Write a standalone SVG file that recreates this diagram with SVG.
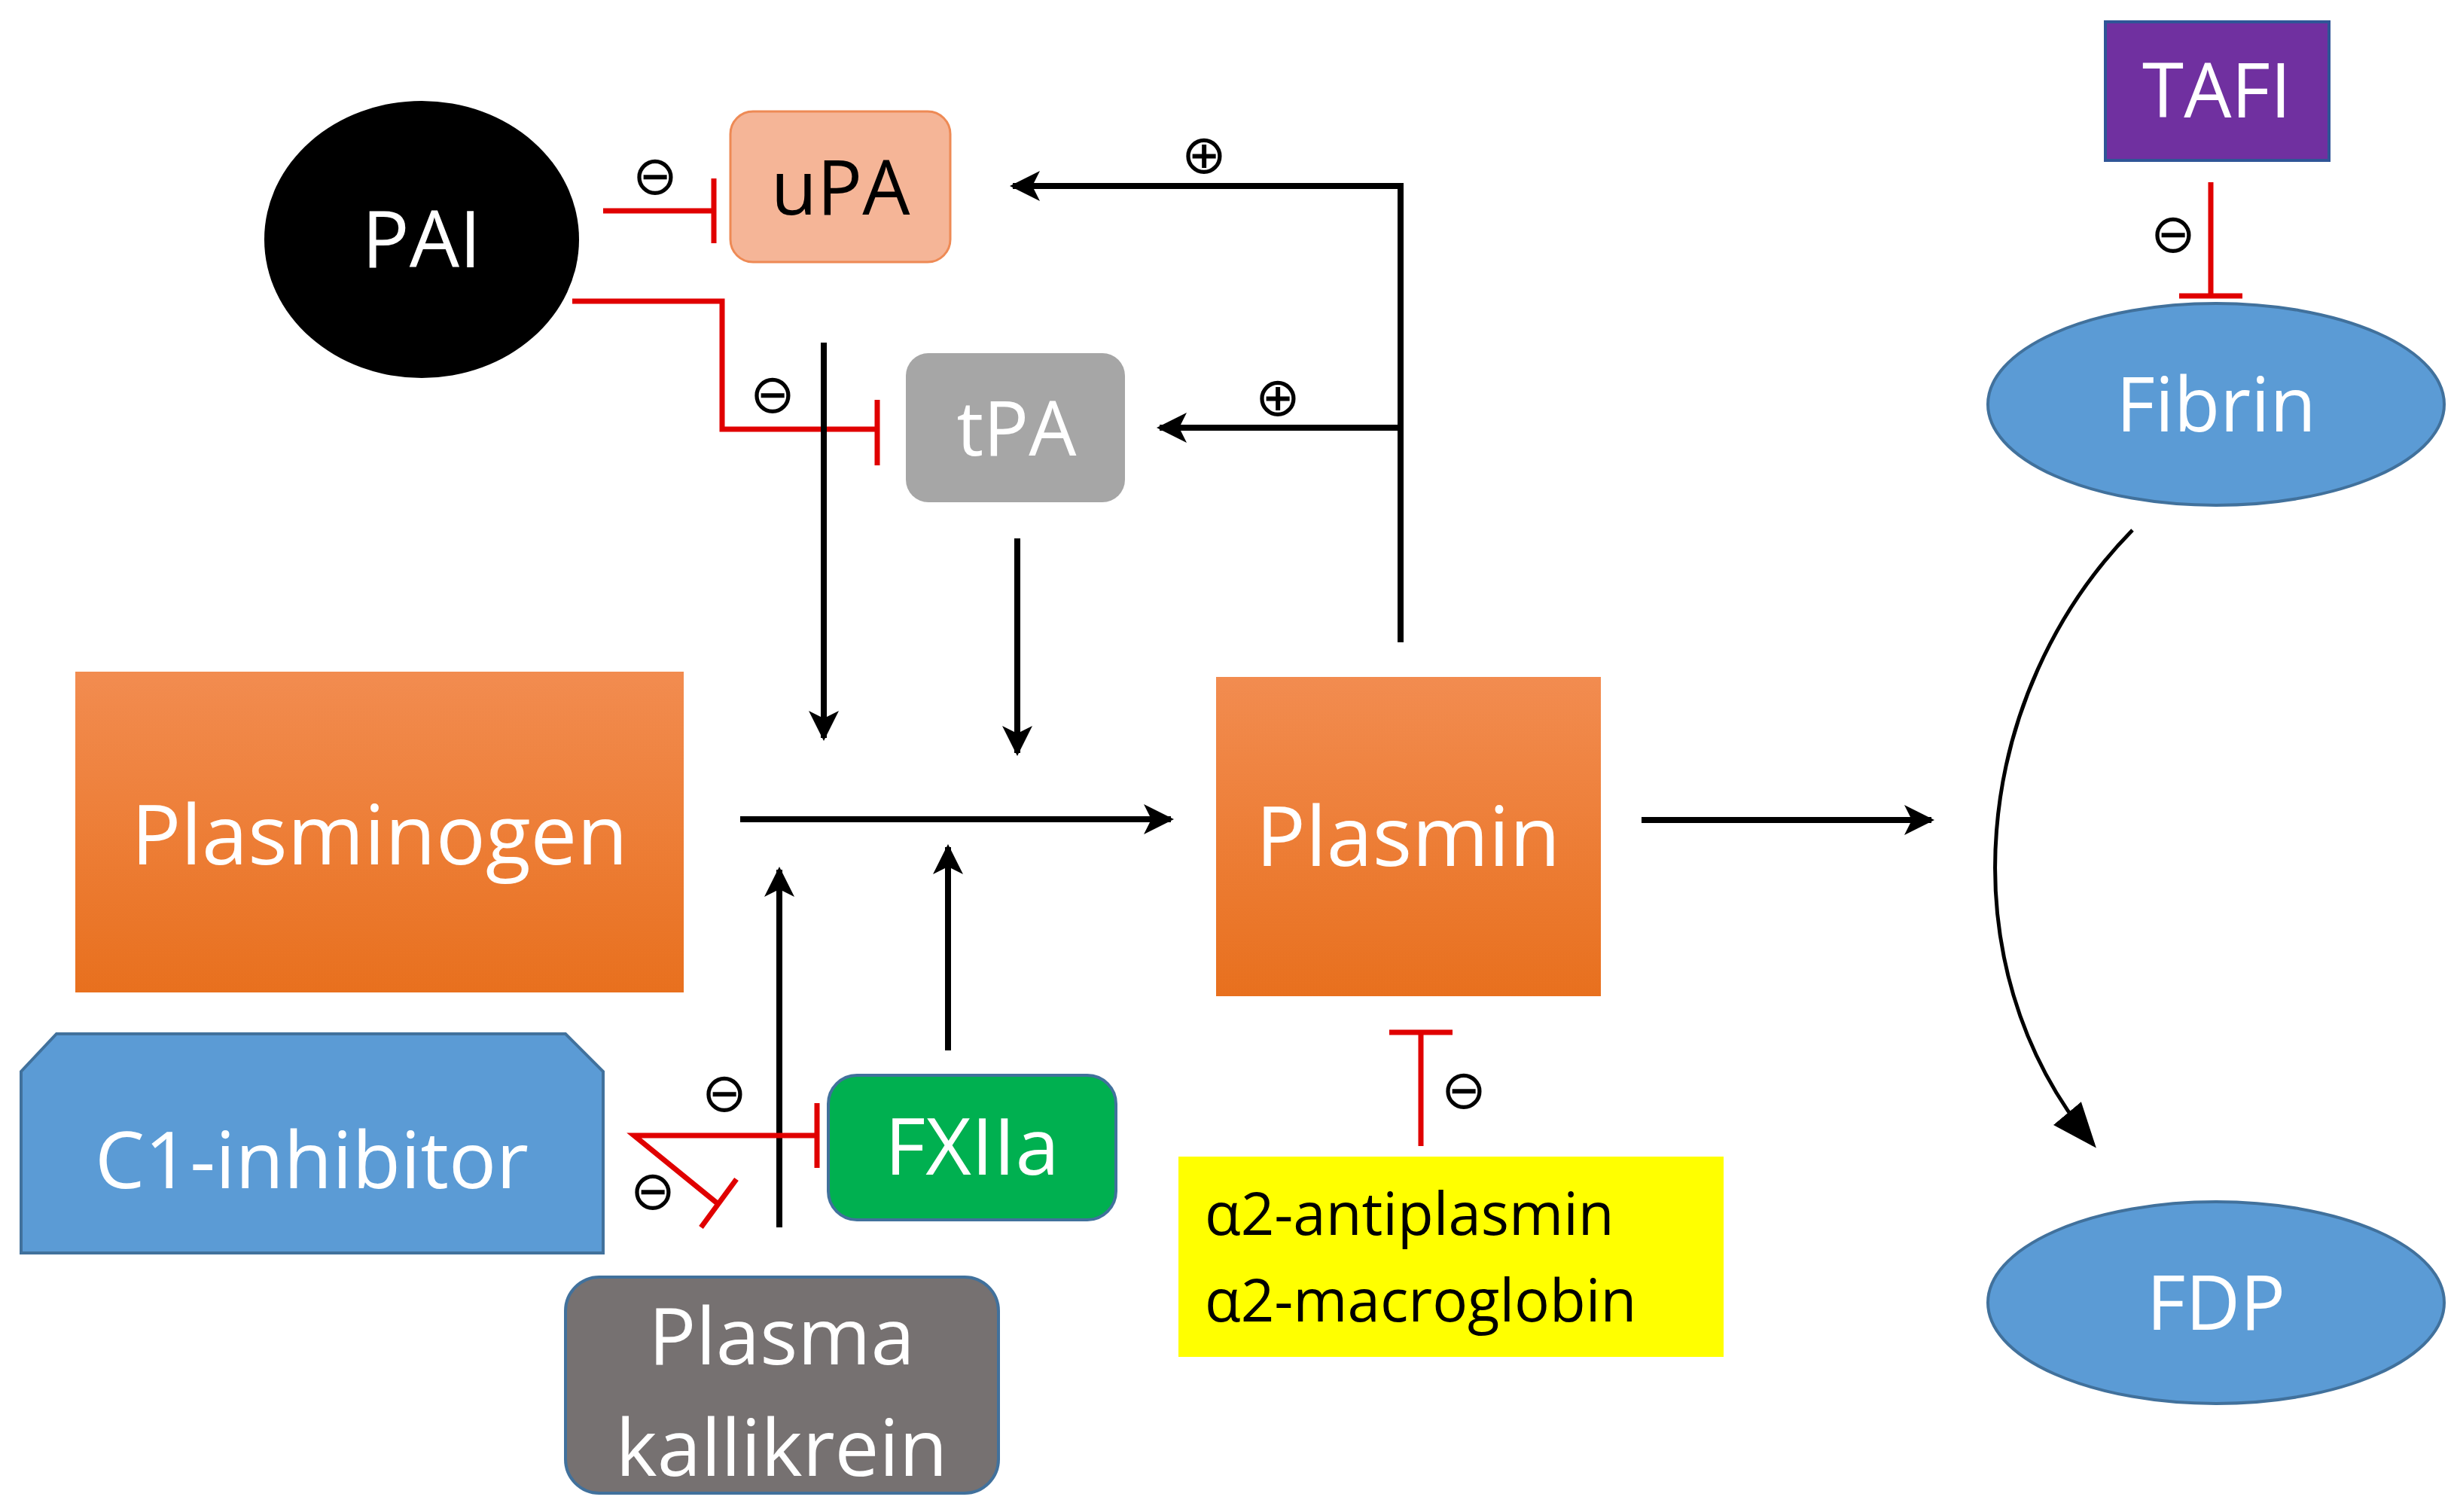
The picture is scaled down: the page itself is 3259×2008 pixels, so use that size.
<svg xmlns="http://www.w3.org/2000/svg" width="3259" height="2008" viewBox="0 0 3259 2008">
<style>
text{font-family:"Open Sans","Liberation Sans",sans-serif;text-anchor:middle}
.w{fill:#fff}
.k{fill:#000}
.blk{stroke:#000;stroke-width:8;fill:none}
.red{stroke:#e00000;stroke-width:7;fill:none}
.sym{font-family:"DejaVu Sans",sans-serif;font-size:72px;fill:#000}
</style>
<defs>
<linearGradient id="og" x1="0" y1="0" x2="0" y2="1"><stop offset="0" stop-color="#F28C50"/><stop offset="1" stop-color="#E8701E"/></linearGradient>
<marker id="ah" viewBox="0 0 10 10" refX="9" refY="5" markerWidth="5" markerHeight="5" orient="auto" markerUnits="strokeWidth"><path d="M0,0 L10,5 L0,10 L2.5,5 z" fill="#000"/></marker>
<marker id="ah2" viewBox="0 0 10 10" refX="9" refY="5" markerWidth="12" markerHeight="12" orient="auto" markerUnits="strokeWidth"><path d="M0,1 L10,5 L0,9 z" fill="#000"/></marker>
</defs>
<g id="PAI"><ellipse cx="560" cy="318" rx="209" ry="184" fill="#000"/><text x="560" y="355" font-size="105" class="w">PAI</text></g>
<g id="uPA"><rect x="970" y="148" width="292" height="200" rx="30" fill="#F5B597" stroke="#EE8A55" stroke-width="3"/><text x="1116" y="285" font-size="100" class="k">uPA</text></g>
<g id="tPA"><rect x="1203" y="469" width="291" height="198" rx="30" fill="#A6A6A6"/><text x="1350" y="605" font-size="100" class="w">tPA</text></g>
<g id="Plasminogen"><rect x="100" y="892" width="808" height="426" fill="url(#og)"/><text x="504" y="1148" font-size="110" class="w">Plasminogen</text></g>
<g id="Plasmin"><rect x="1615" y="899" width="511" height="424" fill="url(#og)"/><text x="1870" y="1150" font-size="110" class="w">Plasmin</text></g>
<g id="C1-inhibitor"><path d="M75,1373 L751,1373 L801,1423 L801,1664 L28,1664 L28,1423 Z" fill="#5B9BD5" stroke="#41719C" stroke-width="4"/><text x="414" y="1578" font-size="105" class="w">C1-inhibitor</text></g>
<g id="FXIIa"><rect x="1100" y="1428" width="382" height="192" rx="38" fill="#00B050" stroke="#41719C" stroke-width="4"/><text x="1291" y="1560" font-size="105" class="w">FXIIa</text></g>
<g id="Plasma-kallikrein"><rect x="751" y="1696" width="575" height="287" rx="45" fill="#767171" stroke="#41719C" stroke-width="4"/><text x="1038" y="1812" font-size="105" class="w">Plasma</text><text x="1038" y="1960" font-size="105" class="w">kallikrein</text></g>
<g id="antiplasmin"><rect x="1565" y="1536" width="724" height="266" fill="#FFFF00"/><text x="1600" y="1640" font-size="78" class="k" style="text-anchor:start">α2-antiplasmin</text><text x="1600" y="1755" font-size="78" class="k" style="text-anchor:start">α2-macroglobin</text></g>
<g id="TAFI"><rect x="2796" y="29" width="297" height="184" fill="#7030A0" stroke="#2F5597" stroke-width="4"/><text x="2944" y="156" font-size="100" class="w">TAFI</text></g>
<g id="Fibrin"><ellipse cx="2943" cy="537" rx="303" ry="134" fill="#5B9BD5" stroke="#41719C" stroke-width="4"/><text x="2943" y="573" font-size="100" class="w">Fibrin</text></g>
<g id="FDP"><ellipse cx="2943" cy="1730" rx="303" ry="134" fill="#5B9BD5" stroke="#41719C" stroke-width="4"/><text x="2943" y="1766" font-size="100" class="w">FDP</text></g>
<g id="connectors">
<path class="red" d="M801,280 H948 M948,237 V323"/>
<path class="red" d="M760,400 H959 V570 H1165 M1165,531 V618"/>
<path class="blk" d="M1094,455 V980" marker-end="url(#ah)"/>
<path class="blk" d="M1351,715 V1000" marker-end="url(#ah)"/>
<path class="blk" d="M983,1088 H1555" marker-end="url(#ah)"/>
<path class="blk" d="M1259,1395 V1125" marker-end="url(#ah)"/>
<path class="blk" d="M1035,1630 V1155" marker-end="url(#ah)"/>
<path class="blk" d="M1860,853 V247 H1345" marker-end="url(#ah)"/>
<path class="blk" d="M1860,568 H1540" marker-end="url(#ah)"/>
<path class="blk" d="M2180,1089 H2565" marker-end="url(#ah)"/>
<path class="red" d="M1085,1508 H842 L955,1600 M978,1566 L931,1630 M1085,1465 V1551"/>
<path class="red" d="M1887,1522 V1371 M1845,1371 H1929"/>
<path class="red" d="M2936,242 V393 M2894,393 H2978"/>
<path d="M2832,704 C2620,920 2580,1280 2780,1520" stroke="#000" stroke-width="5" fill="none" marker-end="url(#ah2)"/>
</g>
<g id="signs">
<text class="sym" x="870" y="258">⊖</text>
<text class="sym" x="1026" y="548">⊖</text>
<text class="sym" x="1599" y="230">⊕</text>
<text class="sym" x="1697" y="552">⊕</text>
<text class="sym" x="962" y="1476">⊖</text>
<text class="sym" x="867" y="1606">⊖</text>
<text class="sym" x="1944" y="1472">⊖</text>
<text class="sym" x="2886" y="335">⊖</text>
</g>
</svg>
